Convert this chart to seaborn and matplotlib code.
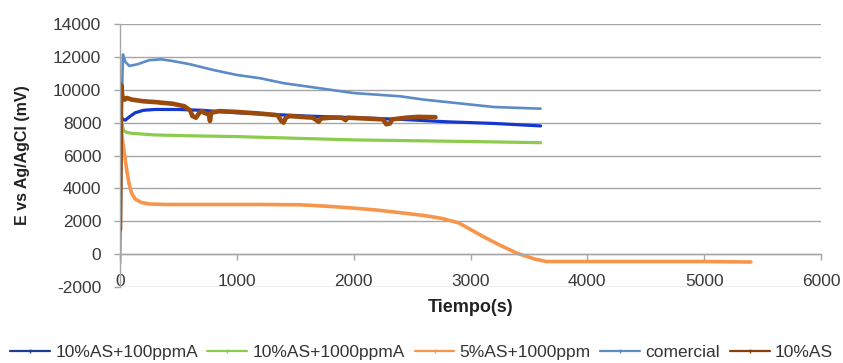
import numpy as np
import pandas as pd
import matplotlib
matplotlib.use("Agg")
import matplotlib.pyplot as plt
from matplotlib.lines import Line2D
import seaborn as sns

# ---- data ----
series_names = ["10%AS+100ppmA", "10%AS+1000ppmA", "5%AS+1000ppm", "comercial", "10%AS"]

t_100ppmA = [10, 25, 45, 80, 130, 200, 300, 500, 700, 1000, 1300, 1600, 2000, 2400, 2800, 3200, 3600]
v_100ppmA = [8350, 8200, 8150, 8350, 8600, 8750, 8800, 8800, 8750, 8600, 8500, 8400, 8300, 8200, 8050, 7950, 7800]

t_1000ppmA = [0, 15, 30, 60, 100, 300, 600, 1000, 1500, 2000, 2500, 3000, 3600]
v_1000ppmA = [9000, 8000, 7500, 7400, 7350, 7250, 7200, 7150, 7050, 6950, 6900, 6850, 6780]

t_5AS = [5, 20, 40, 60, 80, 100, 130, 180, 250, 400, 800, 1200, 1550, 1800, 2000, 2200, 2400,
         2600, 2750, 2900, 3000, 3100, 3250, 3400, 3550, 3650, 4000, 4500, 5000, 5400]
v_5AS = [8000, 7000, 6000, 5000, 4200, 3700, 3350, 3150, 3050, 3020, 3020, 3020, 3000, 2900, 2800, 2680, 2520,
         2350, 2180, 1900, 1500, 1100, 550, 50, -300, -450, -450, -450, -450, -480]

t_com = [0, 5, 15, 25, 45, 80, 150, 250, 350, 450, 600, 800, 1000, 1200, 1400, 1600, 1800,
         2000, 2200, 2400, 2600, 2800, 3000, 3200, 3400, 3600]
v_com = [-600, 1300, 9000, 12150, 11700, 11450, 11550, 11800, 11850, 11750, 11550, 11200, 10900, 10700,
         10400, 10200, 10000, 9800, 9700, 9600, 9400, 9250, 9100, 8950, 8900, 8850]

t_10AS = [0, 10, 20, 40, 60, 100, 200, 300, 450, 550, 600, 620, 650, 680, 700, 720, 760, 770, 780,
          850, 1000, 1200, 1350, 1380, 1400, 1420, 1450, 1550, 1650, 1700, 1720, 1800, 1900, 1930,
          1950, 2100, 2250, 2280, 2310, 2330, 2450, 2550, 2700]
v_10AS = [1500, 10300, 9600, 9400, 9500, 9400, 9300, 9250, 9150, 9000, 8750, 8400, 8300, 8600, 8700,
          8600, 8500, 8100, 8600, 8700, 8650, 8550, 8450, 8100, 8000, 8300, 8400, 8350, 8300, 8050,
          8250, 8300, 8300, 8150, 8300, 8250, 8200, 7900, 7950, 8200, 8300, 8350, 8330]

x_ticks = [0, 1000, 2000, 3000, 4000, 5000, 6000]
y_ticks = [-2000, 0, 2000, 4000, 6000, 8000, 10000, 12000, 14000]

# ---- styling ----
colors = {"10%AS+100ppmA": "#1536CF", "10%AS+1000ppmA": "#8DCB4C", "5%AS+1000ppm": "#F7964A",
          "comercial": "#5C8BC6", "10%AS": "#9A4A0C"}
widths = {"10%AS+100ppmA": 2.3, "10%AS+1000ppmA": 2.3, "5%AS+1000ppm": 2.6,
          "comercial": 1.9, "10%AS": 3.3}
legend_colors = {"10%AS+100ppmA": "#1F3A93", "10%AS+1000ppmA": "#8DCB4C", "5%AS+1000ppm": "#F7964A",
                 "comercial": "#5C8BC6", "10%AS": "#8A3E0A"}

data = {
    "10%AS+100ppmA": (t_100ppmA, v_100ppmA),
    "10%AS+1000ppmA": (t_1000ppmA, v_1000ppmA),
    "5%AS+1000ppm": (t_5AS, v_5AS),
    "comercial": (t_com, v_com),
    "10%AS": (t_10AS, v_10AS),
}

sns.set_theme(style="white")
plt.rcParams["font.family"] = ["Liberation Sans", "DejaVu Sans"]

fig = plt.figure(figsize=(8.43, 3.63), dpi=100)
ax = fig.add_axes([120 / 843, 1 - 287 / 363, (821 - 120) / 843, (287 - 24) / 363])

draw_order = ["comercial", "5%AS+1000ppm", "10%AS+1000ppmA", "10%AS+100ppmA", "10%AS"]
for name in draw_order:
    t, v = data[name]
    df = pd.DataFrame({"t": t, "v": v})
    sns.lineplot(data=df, x="t", y="v", ax=ax, color=colors[name], linewidth=widths[name],
                 sort=False, estimator=None, legend=False)

ax.set_xlim(0, 6000)
ax.set_ylim(-2000, 14000)
ax.set_xticks(x_ticks)
ax.set_yticks(y_ticks)
ax.set_xticklabels([str(x) for x in x_ticks])
ax.set_yticklabels([str(y) for y in y_ticks])

grid_c = "#A6A6A6"
ax.grid(axis="y", color=grid_c, linewidth=1.0)
ax.grid(axis="x", visible=False)
ax.set_axisbelow(True)
for s in ["top", "right"]:
    ax.spines[s].set_visible(False)
ax.spines["left"].set_color(grid_c)
ax.spines["left"].set_linewidth(1.0)
ax.spines["bottom"].set_position(("data", 0))
ax.spines["bottom"].set_color(grid_c)
ax.spines["bottom"].set_linewidth(1.0)

ax.tick_params(axis="y", which="major", left=True, length=4.5, width=1.0, color=grid_c,
               pad=9, labelsize=12.5, labelcolor="#3A3A3A")
ax.tick_params(axis="x", which="major", bottom=True, direction="out", length=4, width=1.0,
               color=grid_c, pad=10.5, labelsize=12.5, labelcolor="#3A3A3A")

ax.set_xlabel("Tiempo(s)", fontsize=13, fontweight="bold", color="#222222")
ax.set_ylabel("E vs Ag/AgCl (mV)", fontsize=11.5, fontweight="bold", color="#222222")
ax.xaxis.set_label_coords(0.5, -0.045)
ax.yaxis.set_label_coords(-0.128, 0.5)

handles = [Line2D([], [], color=legend_colors[n], linewidth=1.6, marker="|", markersize=3,
                  markeredgewidth=1.0) for n in series_names]
fig.legend(handles, series_names, loc="center", bbox_to_anchor=(0.5, 1 - 352 / 363), ncol=5,
           frameon=False, fontsize=12.5, handlelength=2.3, handletextpad=0.3, columnspacing=0.55,
           labelcolor="#333333")

fig.savefig("out.png", dpi=100)
